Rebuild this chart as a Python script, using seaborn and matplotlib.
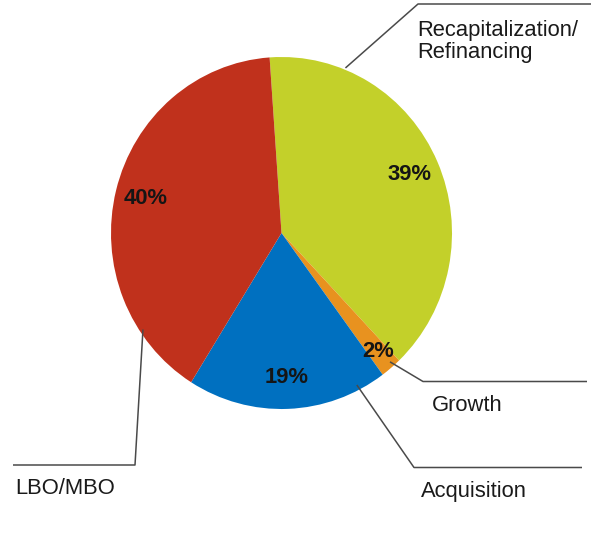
import numpy as np
import matplotlib
matplotlib.use("Agg")
from matplotlib import pyplot as plt
import seaborn as sns

# data, clockwise from the top
labels = ["Recapitalization/\nRefinancing", "Growth", "Acquisition", "LBO/MBO"]
shares = [39, 2, 19, 40]
colors = ["#c3d02a", "#e8921f", "#0070c0", "#c0311c"]

sns.set_theme(style="white")
plt.rcParams["font.family"] = ["Liberation Sans", "DejaVu Sans"]

W, H = 591, 560
CX, CY = 281.5, 233.0     # pie centre in pixels
SX, SY = 170.5, 176.0     # pixels per data unit (reference is slightly stretched)
FS = 15.8


def px(x, y):
    """pixel position -> data coords"""
    return (x - CX) / SX, (CY - y) / SY


fig = plt.figure(figsize=(W / 100, H / 100), dpi=100)
ax = fig.add_axes([0, 0, 1, 1])

start = 94
wedges, _, pcts = ax.pie(shares, colors=colors, startangle=start, counterclock=False,
                         radius=1, autopct="%d%%", pctdistance=0.82,
                         wedgeprops=dict(linewidth=0),
                         textprops=dict(fontsize=FS, fontweight="bold", color="#151515"))
ax.set_aspect("auto")
ax.set_xlim(px(0, 0)[0], px(W, 0)[0])
ax.set_ylim(px(0, H)[1], px(0, 0)[1])
ax.axis("off")

# the small slice label sits a bit further out
x0, y0 = pcts[1].get_position()
pcts[1].set_position((x0 * 1.07, y0 * 1.07))

# leader lines: anchor angle on the rim, elbow, end (pixels)
leaders = [
    (68.2, 1.01, (418, 4), (591, 4)),
    (-49.0, 0.97, (423, 381.5), (587, 381.5)),
    (-62.9, 0.97, (414, 467.5), (582, 467.5)),
    (214.0, 0.98, (135, 465), (13, 465)),
]
for ang, r, elbow, end in leaders:
    a = np.deg2rad(ang)
    xs = [r * np.cos(a), px(*elbow)[0], px(*end)[0]]
    ys = [r * np.sin(a), px(*elbow)[1], px(*end)[1]]
    ax.plot(xs, ys, color="#4a4a4a", lw=1.1, solid_capstyle="butt")

# category labels (left edge, first baseline), one text per line
label_pos = [(417, 36), (432, 410.5), (421, 496.5), (15, 494)]
for lab, (x, y) in zip(labels, label_pos):
    for i, line in enumerate(lab.split("\n")):
        ax.text(*px(x, y + i * 21.7), line, fontsize=FS, color="#1a1a1a",
                ha="left", va="baseline")

fig.savefig("out.png", dpi=100)
